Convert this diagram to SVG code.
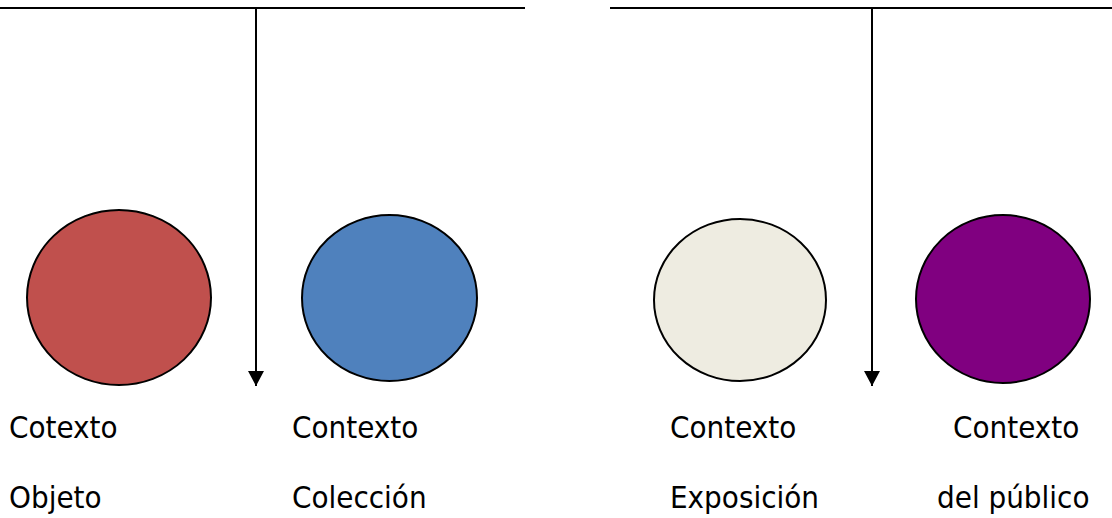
<svg xmlns="http://www.w3.org/2000/svg" width="1112" height="518" viewBox="0 0 1112 518">
<style>
.ln{stroke:#000;stroke-width:2;fill:none}
.nd{stroke:#000;stroke-width:2}
.t{font-family:"DejaVu Sans Condensed","DejaVu Sans",sans-serif;font-stretch:condensed;font-size:31px;fill:#000}
</style>
<defs>
<marker id="ah" markerWidth="15" markerHeight="16" refX="15" refY="8" orient="auto" markerUnits="userSpaceOnUse">
<path d="M0,0 L15,8 L0,16 Z" fill="#000"/>
</marker>
</defs>
<rect width="1112" height="518" fill="#fff"/>
<g id="connectors">
<line class="ln" x1="0" y1="8" x2="525" y2="8"/>
<line class="ln" x1="256" y1="8" x2="256" y2="386" marker-end="url(#ah)"/>
<line class="ln" x1="610" y1="8" x2="1112" y2="8"/>
<line class="ln" x1="872" y1="8" x2="872" y2="386" marker-end="url(#ah)"/>
</g>
<g id="objeto">
<ellipse class="nd" cx="119" cy="297.5" rx="92" ry="87.5" fill="#C0504D"/>
<text class="t" x="9" y="438">Cotexto</text>
<text class="t" x="9" y="508">Objeto</text>
</g>
<g id="coleccion">
<ellipse class="nd" cx="389.5" cy="298" rx="87.5" ry="83" fill="#4F81BD"/>
<text class="t" x="292" y="438">Contexto</text>
<text class="t" x="292" y="508">Colección</text>
</g>
<g id="exposicion">
<ellipse class="nd" cx="740" cy="300" rx="86" ry="81" fill="#EEECE1"/>
<text class="t" x="670" y="438">Contexto</text>
<text class="t" x="670" y="508">Exposición</text>
</g>
<g id="publico">
<ellipse class="nd" cx="1003" cy="299" rx="87" ry="84" fill="#800080"/>
<text class="t" x="953" y="438">Contexto</text>
<text class="t" x="937" y="508">del público</text>
</g>
</svg>
